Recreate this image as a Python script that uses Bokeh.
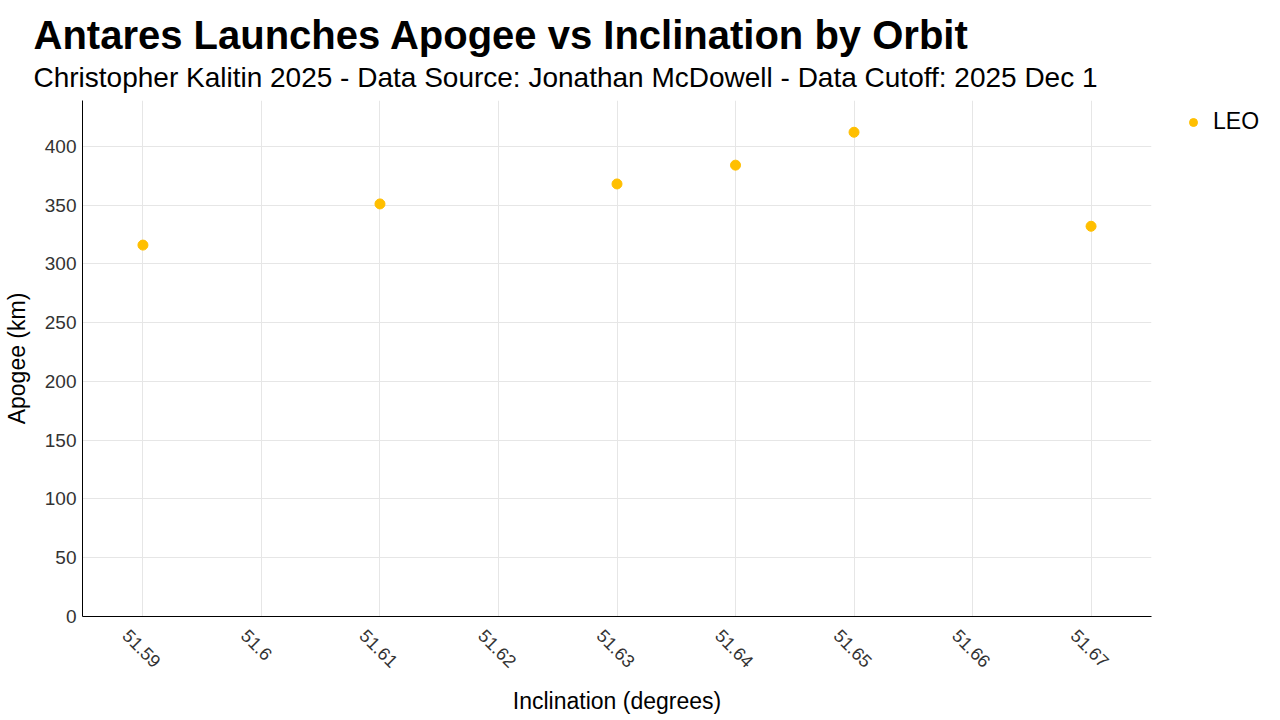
import math
from bokeh.plotting import figure
from bokeh.models import (Title, Legend, LegendItem, FixedTicker, CustomJSTickFormatter,
                          ColumnDataSource, Range1d, LinearAxis)
from bokeh.embed import file_html
from bokeh.resources import INLINE

# ---- data ----
orbit_name = "LEO"
inclination = [51.59, 51.61, 51.63, 51.64, 51.65, 51.67]
apogee = [316, 351, 368, 384, 412, 332]
x_ticks = [51.59, 51.60, 51.61, 51.62, 51.63, 51.64, 51.65, 51.66, 51.67]
y_ticks = [0, 50, 100, 150, 200, 250, 300, 350, 400]

title_text = "Antares Launches Apogee vs Inclination by Orbit"
subtitle_text = "Christopher Kalitin 2025 - Data Source: Jonathan McDowell - Data Cutoff: 2025 Dec 1"
x_label = "Inclination (degrees)"
y_label = "Apogee (km)"

FONT = "Liberation Sans"
DOT = "#FFBF00"

X0, X1 = 51.5849, 51.6751
FRAME_W, FRAME_H = 1069, 516
# tick labels are centred on their ticks (shift of ~17 px expressed in data units)
LABEL_SHIFT = 17 * (X1 - X0) / FRAME_W

p = figure(frame_width=FRAME_W, frame_height=FRAME_H, output_backend="svg",
           toolbar_location=None,
           x_range=Range1d(X0, X1), y_range=Range1d(0, 439),
           min_border_left=74, min_border_right=121, min_border_bottom=96,
           min_border_top=100)
p.outline_line_color = None
p.background_fill_color = "white"
p.border_fill_color = "white"

src = ColumnDataSource(dict(x=inclination, y=apogee))
r = p.scatter("x", "y", source=src, size=10, fill_color=DOT, line_color=DOT)

# subtitle first (closest to plot), then title
sub = Title(text=subtitle_text, text_font=FONT, text_font_size="28px",
            text_font_style="normal", text_color="black", align="left", offset=-49,
            standoff=15)
ttl = Title(text=title_text, text_font=FONT, text_font_size="40px",
            text_font_style="bold", text_color="black", align="left", offset=-49,
            standoff=-9)
p.add_layout(sub, "above")
p.add_layout(ttl, "above")

# main x axis hidden; visible axis uses a range shifted so labels centre on ticks
p.xaxis.visible = False
p.extra_x_ranges = {"labels": Range1d(X0 + LABEL_SHIFT, X1 + LABEL_SHIFT)}
xax = LinearAxis(x_range_name="labels")
p.add_layout(xax, "below")

def style(ax, label_size):
    ax.axis_line_color = "black"
    ax.axis_line_width = 1
    ax.major_tick_line_color = None
    ax.minor_tick_line_color = None
    ax.major_tick_out = 0
    ax.major_tick_in = 0
    ax.minor_tick_out = 0
    ax.major_label_text_font = FONT
    ax.major_label_text_font_size = label_size
    ax.major_label_text_color = "#333333"
    ax.axis_label_text_font = FONT
    ax.axis_label_text_font_size = "23px"
    ax.axis_label_text_font_style = "normal"
    ax.axis_label_text_color = "black"

style(xax, "18px")
style(p.yaxis[0], "19px")

xax.ticker = FixedTicker(ticks=x_ticks)
xax.formatter = CustomJSTickFormatter(code="return String(Math.round(tick*100)/100);")
xax.major_label_orientation = -math.pi / 4
xax.axis_label = x_label
xax.major_label_standoff = 16
xax.axis_label_standoff = 11

p.yaxis.ticker = FixedTicker(ticks=y_ticks)
p.yaxis.axis_label = y_label
p.yaxis.major_label_standoff = 6
p.yaxis.axis_label_standoff = 12

p.xgrid.ticker = FixedTicker(ticks=x_ticks)
p.ygrid.ticker = FixedTicker(ticks=y_ticks)
p.grid.grid_line_color = "#e6e6e6"
p.grid.grid_line_width = 1

legend = Legend(items=[LegendItem(label=orbit_name, renderers=[r])],
                location=(32, FRAME_H - 35), border_line_color=None,
                background_fill_alpha=0, margin=0, padding=0,
                label_text_font=FONT, label_text_font_size="23px",
                label_text_color="black", glyph_width=20, glyph_height=20,
                label_standoff=10)
p.add_layout(legend, "right")

open("out.html", "w").write(file_html(p, INLINE))
